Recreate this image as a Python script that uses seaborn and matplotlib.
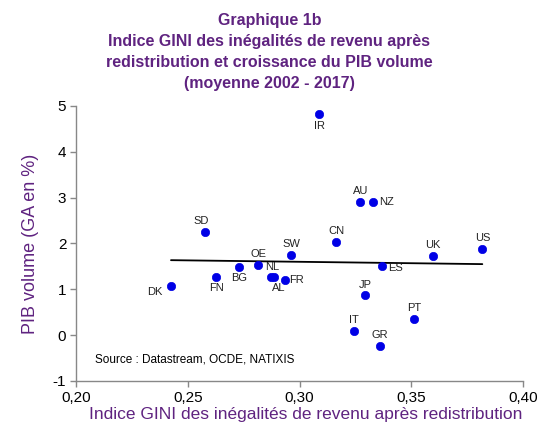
import numpy as np
import pandas as pd
import matplotlib
matplotlib.use("Agg")
import matplotlib.pyplot as plt
import seaborn as sns

countries = ["IR", "AU", "NZ", "CN", "SW", "UK", "US", "SD", "OE", "BG", "ES",
             "NL", "AL", "FR", "FN", "DK", "JP", "PT", "IT", "GR"]
gini = [0.3088, 0.3272, 0.3329, 0.3164, 0.2963, 0.3598, 0.3818, 0.2579, 0.2815, 0.2731, 0.3370,
        0.2872, 0.2887, 0.2933, 0.2627, 0.2425, 0.3295, 0.3513, 0.3243, 0.3358]
pib = [4.83, 2.91, 2.90, 2.03, 1.74, 1.72, 1.89, 2.25, 1.52, 1.48, 1.50,
       1.26, 1.26, 1.20, 1.27, 1.07, 0.88, 0.35, 0.08, -0.24]
# label placement: (dx, dy) in pixels, ha, va
label_pos = {
    "IR": (0, -7, "center", "top"), "AU": (0, 6, "center", "bottom"),
    "NZ": (6, 0, "left", "center"), "CN": (0, 6, "center", "bottom"),
    "SW": (0, 6, "center", "bottom"), "UK": (0, 6, "center", "bottom"),
    "US": (0, 6, "center", "bottom"), "SD": (-4, 6, "center", "bottom"),
    "OE": (0, 6, "center", "bottom"), "BG": (0, -6, "center", "top"),
    "ES": (6, -2, "left", "center"), "NL": (1, 5, "center", "bottom"),
    "AL": (4, -6, "center", "top"), "FR": (5, 0, "left", "center"),
    "FN": (0, -6, "center", "top"), "DK": (-8, -6, "right", "center"),
    "JP": (0, 5, "center", "bottom"), "PT": (0, 6, "center", "bottom"),
    "IT": (0, 6, "center", "bottom"), "GR": (0, 6, "center", "bottom"),
}
xticks = [0.20, 0.25, 0.30, 0.35, 0.40]
yticks = [-1, 0, 1, 2, 3, 4, 5]

df = pd.DataFrame({"pays": countries, "gini": gini, "pib": pib})

sns.set_style("white")
plt.rcParams["font.family"] = ["Liberation Sans", "DejaVu Sans"]

purple = "#5F2380"
fig = plt.figure(figsize=(5.41, 4.30), dpi=100)
ax = fig.add_axes([76/541, 1-381/430, (523-76)/541, (381-106)/430])

# trend line
coef = np.polyfit(df["gini"], df["pib"], 1)
xs = np.array([df["gini"].min(), df["gini"].max()])
sns.lineplot(x=xs, y=np.polyval(coef, xs), ax=ax, color="black", lw=1.3)

sns.scatterplot(data=df, x="gini", y="pib", ax=ax, color="#0000E6",
                s=36, edgecolor="#0000E6", linewidth=0.5, zorder=3)

for c, xv, yv in zip(countries, gini, pib):
    dx, dy, ha, va = label_pos[c]
    ax.annotate(c, (xv, yv), xytext=(dx, dy), textcoords="offset pixels",
                ha=ha, va=va, fontsize=8, color="#222222")

ax.set_xlim(0.20, 0.40)
ax.set_ylim(-1, 5)
ax.set_xticks(xticks)
ax.set_xticklabels([f"{v:.2f}".replace(".", ",") for v in xticks], fontsize=11)
ax.set_yticks(yticks)
ax.set_yticklabels([str(v) for v in yticks], fontsize=11)
for s in ["top", "right"]:
    ax.spines[s].set_visible(False)
for s in ["left", "bottom"]:
    ax.spines[s].set_color("#888888")
    ax.spines[s].set_linewidth(1)
ax.tick_params(axis="both", direction="out", length=4, color="#888888", width=1,
               labelcolor="black", pad=3, left=True, bottom=True)
ax.set_xlabel("Indice GINI des inégalités de revenu après redistribution",
              fontsize=12.5, color=purple, labelpad=1)
ax.xaxis.set_label_coords(0.513, -0.095)
ax.set_ylabel("PIB volume (GA en %)", fontsize=13, color=purple, labelpad=10)

ax.text(0.042, 0.055, "Source : Datastream, OCDE, NATIXIS", transform=ax.transAxes,
        fontsize=8.5, color="black", ha="left", va="bottom")

fig.text(0.498, 1-13/430, "Graphique 1b\nIndice GINI des inégalités de revenu après\n"
         "redistribution et croissance du PIB volume\n(moyenne 2002 - 2017)",
         ha="center", va="top", fontsize=11.5, fontweight="bold", color=purple,
         linespacing=1.5)

fig.savefig("out.png", dpi=100)
